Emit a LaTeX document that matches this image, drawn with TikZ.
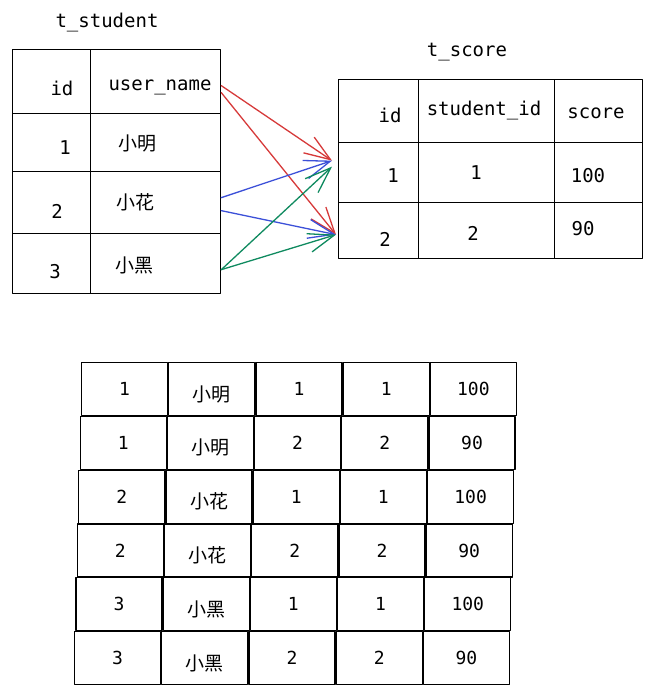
\documentclass[tikz,border=0pt]{standalone}
\usepackage{fontspec}
\setmonofont{DejaVu Sans Mono}
\newfontfamily\cjk{Noto Sans CJK SC}
\usetikzlibrary{arrows.meta}
\definecolor{linkred}{HTML}{D63A3A}
\definecolor{linkblue}{HTML}{3C50D8}
\definecolor{linkgreen}{HTML}{0F8A5F}
\tikzset{
  cell/.style={draw, line width=1.3pt, anchor=north west, inner sep=0pt},
  txt/.style={inner sep=0pt, font=\fontsize{19}{22}\selectfont\ttfamily},
  hanzi/.style={inner sep=0pt, font=\fontsize{19}{22}\selectfont\cjk},
  box/.style={cell, line width=1.2pt, minimum width=86pt, minimum height=53pt},
  link/.style={line width=1.3pt, -{Straight Barb[length=26pt,width=19pt]}}
}
\begin{document}
\begin{tikzpicture}[x=1pt, y=-1pt, line join=round, line cap=round]
\useasboundingbox (0,0) rectangle (652,696);
% t_student
\node[txt] (title-s) at (107,23) {t\_student};
\node[cell, minimum width=78pt, minimum height=64pt] (s-id) at (12,49) {};
\node[cell, minimum width=130pt, minimum height=64pt] (s-name) at (90,49) {};
\node[cell, minimum width=78pt, minimum height=58pt] (s-id1) at (12,113) {};
\node[cell, minimum width=130pt, minimum height=58pt] (s-name1) at (90,113) {};
\node[cell, minimum width=78pt, minimum height=62pt] (s-id2) at (12,171) {};
\node[cell, minimum width=130pt, minimum height=62pt] (s-name2) at (90,171) {};
\node[cell, minimum width=78pt, minimum height=60pt] (s-id3) at (12,233) {};
\node[cell, minimum width=130pt, minimum height=60pt] (s-name3) at (90,233) {};
\node[txt] (l-sid) at (62,88) {id};
\node[txt] (l-sname) at (160,87) {user\_name};
\node[txt] (l-sid1) at (65,148) {1};
\node[hanzi] (l-sname1) at (137,143) {小明};
\node[txt] (l-sid2) at (57,211) {2};
\node[hanzi] (l-sname2) at (135,202) {小花};
\node[txt] (l-sid3) at (55,272) {3};
\node[hanzi] (l-sname3) at (134,265) {小黑};
% t_score
\node[txt] (title-c) at (467,52) {t\_score};
\node[cell, minimum width=80pt, minimum height=63pt] (c-id) at (338,79) {};
\node[cell, minimum width=136pt, minimum height=63pt] (c-sid) at (418,79) {};
\node[cell, minimum width=88pt, minimum height=63pt] (c-score) at (554,79) {};
\node[cell, minimum width=80pt, minimum height=60pt] (c-id1) at (338,142) {};
\node[cell, minimum width=136pt, minimum height=60pt] (c-sid1) at (418,142) {};
\node[cell, minimum width=88pt, minimum height=60pt] (c-score1) at (554,142) {};
\node[cell, minimum width=80pt, minimum height=56pt] (c-id2) at (338,202) {};
\node[cell, minimum width=136pt, minimum height=56pt] (c-sid2) at (418,202) {};
\node[cell, minimum width=88pt, minimum height=56pt] (c-score2) at (554,202) {};
\node[txt] (l-cid) at (390,115) {id};
\node[txt] (l-csid) at (484,111) {student\_id};
\node[txt] (l-cscore) at (596,113) {score};
\node[txt] (l-cid1) at (393,176) {1};
\node[txt] (l-csid1) at (476,173) {1};
\node[txt] (l-cscore1) at (588,176) {100};
\node[txt] (l-cid2) at (385,239) {2};
\node[txt] (l-csid2) at (473,233) {2};
\node[txt] (l-cscore2) at (583,229) {90};
% links
\coordinate (in1) at ([xshift=-6pt,yshift=12pt]c-id1.west);
\coordinate (in2) at ([xshift=-2pt,yshift=-4pt]c-id2.west);
\draw[link, linkred] ([yshift=-4pt]s-name.east) -- (in1);
\draw[link, linkred] ([yshift=-11pt]s-name.east) -- (in2);
\draw[link, linkblue] ([yshift=5pt]s-name2.east) -- (in1);
\draw[link, linkblue] ([yshift=-8pt]s-name2.east) -- (in2);
\draw[link, linkgreen] ([yshift=-6pt]s-name3.east) -- ([yshift=-6pt]in1);
\draw[link, linkgreen] ([yshift=-6pt]s-name3.east) -- (in2);
% joined rows
\foreach \r/\sid/\sname/\cid/\csid/\cval in {0/1/小明/1/1/100, 1/1/小明/2/2/90, 2/2/小花/1/1/100, 3/2/小花/2/2/90, 4/3/小黑/1/1/100, 5/3/小黑/2/2/90} {
  \pgfmathsetmacro\rowy{362+53.8*\r}
  \pgfmathsetmacro\rowx{81-1.4*\r}
  \node[box, font=\fontsize{18}{21}\selectfont\ttfamily] (b\r-1) at (\rowx,\rowy) {\sid};
  \node[box] (b\r-2) at (\rowx+87.2,\rowy) {};
  \node[hanzi] (n\r) at ([yshift=-5pt]b\r-2.center) {\sname};
  \node[box, font=\fontsize{18}{21}\selectfont\ttfamily] (b\r-3) at (\rowx+174.4,\rowy) {\cid};
  \node[box, font=\fontsize{18}{21}\selectfont\ttfamily] (b\r-4) at (\rowx+261.6,\rowy) {\csid};
  \node[box, font=\fontsize{18}{21}\selectfont\ttfamily] (b\r-5) at (\rowx+348.8,\rowy) {\cval};
}
\end{tikzpicture}
\end{document}
